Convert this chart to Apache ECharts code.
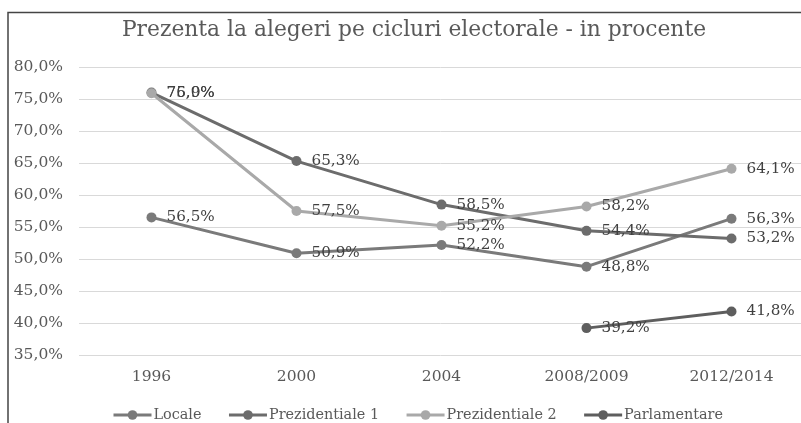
<!DOCTYPE html>
<html>
<head>
<meta charset="utf-8">
<script src="https://cdn.jsdelivr.net/npm/echarts@6/dist/echarts.min.js"></script>
<style>html,body{margin:0;padding:0;background:#fff;}#c{width:801px;height:423px;}</style>
</head>
<body>
<div id="c"></div>
<script>
var categories = ['1996', '2000', '2004', '2008/2009', '2012/2014'];
var locale = [56.5, 50.9, 52.2, 48.8, 56.3];
var prez1 = [76.0, 65.3, 58.5, 54.4, 53.2];
var prez2 = [75.9, 57.5, 55.2, 58.2, 64.1];
var parl = [null, null, null, 39.2, 41.8];
var seriesNames = ['Locale', 'Prezidentiale 1', 'Prezidentiale 2', 'Parlamentare'];
var titleText = 'Prezenta la alegeri pe cicluri electorale - in procente';

var FONT = 'DejaVu Serif';
function pct(v) { return v.toFixed(1).replace('.', ',') + '%'; }
var colors = ['#7a7a7a', '#6c6c6c', '#a9a9a9', '#5e5e5e'];
var datas = [locale, prez1, prez2, parl];

var chart = echarts.init(document.getElementById('c'), null, {renderer: 'canvas'});
chart.setOption({
  animation: false,
  backgroundColor: '#fff',
  title: {
    text: titleText, left: 414, top: 19, padding: 0, textAlign: 'center',
    textStyle: {fontFamily: FONT, fontSize: 21.8, fontWeight: 'normal', color: '#595959'}
  },
  legend: {
    data: seriesNames, left: 107, top: 403, itemWidth: 38, itemHeight: 12, itemGap: 26,
    lineStyle: {width: 3},
    textStyle: {fontFamily: FONT, fontSize: 14.4, color: '#595959', padding: [0, 0, 0, -3]}
  },
  grid: {left: 79, top: 67, width: 725, height: 288, containLabel: false, outerBoundsMode: 'none'},
  xAxis: {
    type: 'category', data: categories, boundaryGap: true,
    axisLine: {show: false}, axisTick: {show: false},
    axisLabel: {fontFamily: FONT, fontSize: 15.5, color: '#595959', margin: 14}
  },
  yAxis: {
    type: 'value', min: 35, max: 80, interval: 5,
    axisLine: {show: false}, axisTick: {show: false},
    splitLine: {lineStyle: {color: '#d9d9d9', width: 1}},
    axisLabel: {fontFamily: FONT, fontSize: 15.5, color: '#595959', margin: 16, formatter: pct}
  },
  graphic: [{
    type: 'polyline', silent: true,
    shape: {points: [[8, 423], [8, 12.5], [801, 12.5]]},
    style: {stroke: '#444', lineWidth: 1.5, fill: null}
  }],
  series: seriesNames.map(function (n, i) {
    return {
      name: n, type: 'line', data: datas[i], color: colors[i],
      symbol: 'circle', symbolSize: 10, connectNulls: false,
      lineStyle: {width: 3, color: colors[i]},
      itemStyle: {color: colors[i]},
      label: {
        show: true, position: 'right', distance: 10,
        fontFamily: FONT, fontSize: 15.2, color: '#404040',
        formatter: function (p) { return p.value == null ? '' : pct(p.value); }
      }
    };
  })
});
</script>
</body>
</html>
